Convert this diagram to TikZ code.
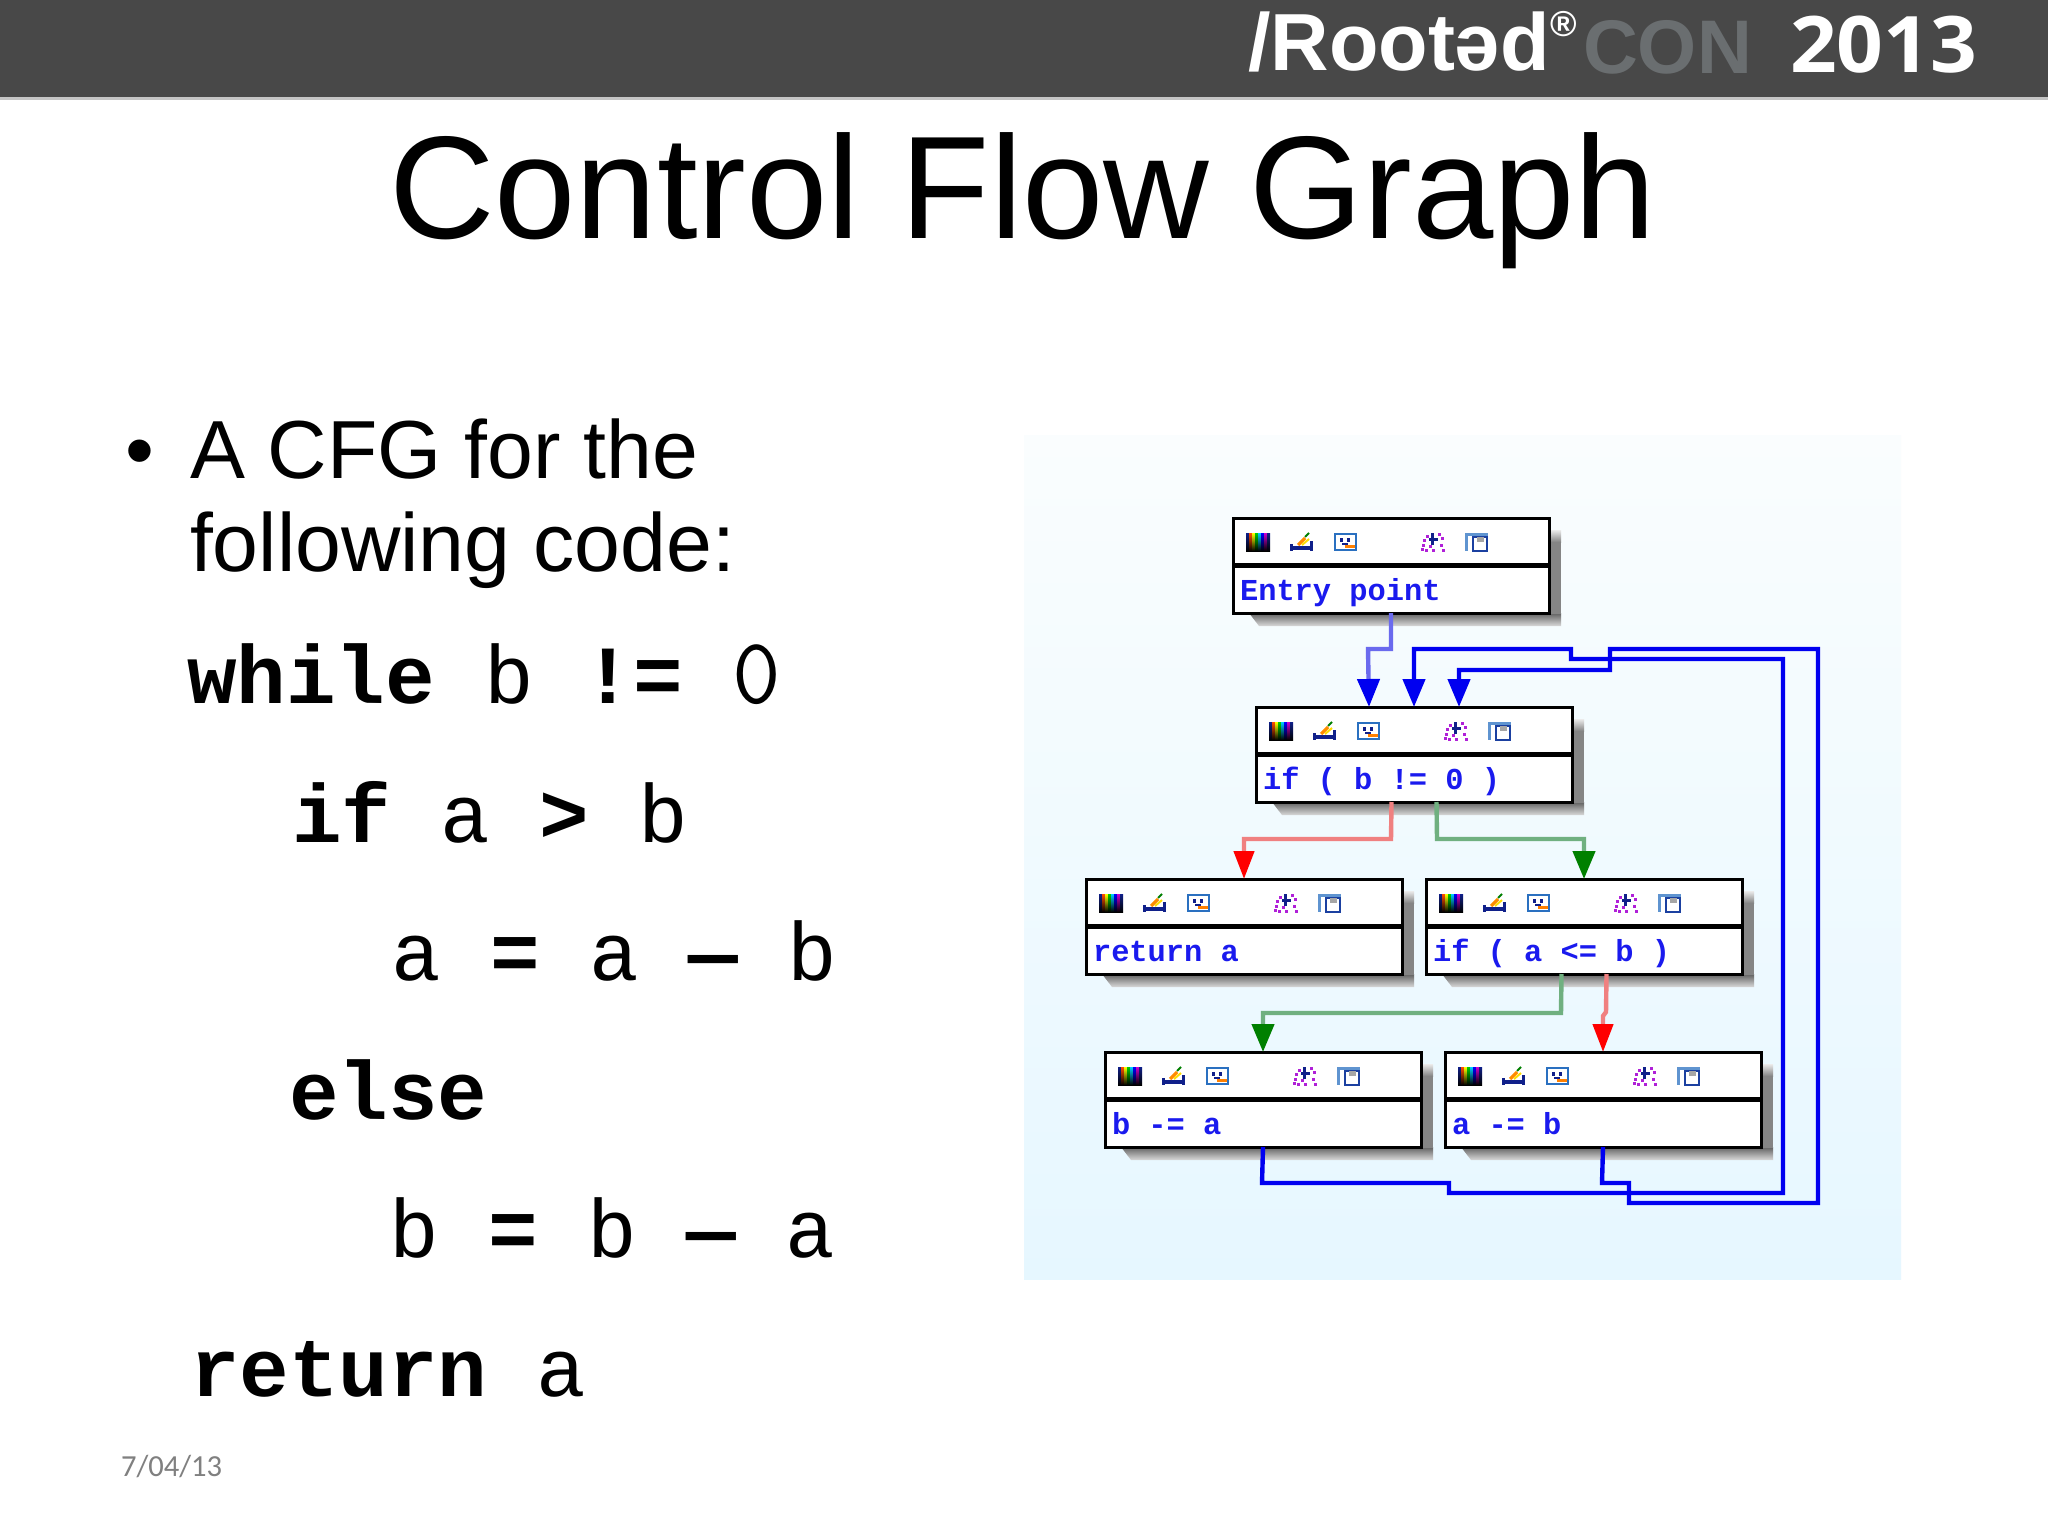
\documentclass[tikz,border=0pt]{standalone}
\usepackage{fontspec}
\usepackage{graphicx}
\setmainfont{Liberation Sans}
\setmonofont{Liberation Mono}
\newfontfamily\datefont{Carlito}
\newfontfamily\yearfont{Open Sans}
\newfontfamily\lmmonofam{Latin Modern Mono}
\usetikzlibrary{arrows.meta,calc}
\definecolor{hdr}{HTML}{484848}
\definecolor{hdrline}{HTML}{C4C4C4}
\definecolor{conc}{HTML}{6A6E70}
\definecolor{bgtop}{HTML}{FAFDFE}
\definecolor{bgbot}{HTML}{E6F7FF}
\definecolor{cfgblue}{HTML}{0000F0}
\definecolor{cfgtext}{HTML}{1A1AEE}
\definecolor{lblue}{HTML}{6A6AEE}
\definecolor{lred}{HTML}{F08080}
\definecolor{lgreen}{HTML}{70B080}
\definecolor{dgreen}{HTML}{008000}
\definecolor{iconblue}{HTML}{2A70C0}
\definecolor{icondark}{HTML}{10208A}
\definecolor{iconpurple}{HTML}{B020D8}
\newcommand{\fsz}[1]{\fontsize{#1pt}{#1pt}\selectfont}
\tikzset{
  x=0.5pt,y=-0.5pt,
  every node/.style={inner sep=0pt,outer sep=0pt},
  txt/.style={anchor=base west},
  blockbox/.style={draw=black,line width=1.5pt,fill=white,minimum width=158pt,minimum height=47.5pt},
  blocktext/.style={anchor=base west,font=\ttfamily\bfseries\fsz{15.2},text=cfgtext},
  title/.style={txt,font=\fsz{73.1},text=black},
  bodytext/.style={txt,font=\fsz{41.2},text=black},
  codeline/.style={txt,font=\ttfamily\fsz{41.3},text=black},
  edge/.style={line width=2.2pt,line join=miter},
  tipblue/.style={-{Triangle[length=14pt,width=11pt,color=cfgblue]}},
  tipred/.style={-{Triangle[length=14pt,width=10pt,color=red]}},
  tipgreen/.style={-{Triangle[length=14pt,width=11pt,color=dgreen]}},
  pics/cfgicons/.style={code={
    \foreach \xa/\ca in {13/icondark,16/red!70!yellow,19/yellow,22/green!80!black,25/cyan!80!blue,28/blue,31/magenta!80!black,34/icondark}{
      \shade[top color=\ca,bottom color=black] (\xa,15) rectangle ++(3,18);}
    \fill[icondark] (57,26) rectangle (60,33);
    \fill[icondark] (57,28) rectangle (80,32);
    \fill[icondark] (77,23) rectangle (80,33);
    \draw[orange!90!yellow,line width=1.6pt] (65,27) -- (72,20);
    \draw[yellow!80!orange,line width=1pt] (69,27) -- (76,21);
    \draw[green!50!black,line width=1pt] (72,19) -- (76,15);
    \draw[iconblue,line width=1.3pt,fill=white] (102,16) rectangle (123,32);
    \fill[icondark] (107,20) rectangle (110,24);
    \fill[icondark] (114,20) rectangle (117,24);
    \fill[icondark] (109,25) rectangle (115,27);
    \fill[orange] (112,27) rectangle (122,30);
    \fill[icondark] (196,20) rectangle (205,23);
    \fill[icondark] (198,15) rectangle (201,27);
    \foreach \pa in {(189,26),(188,30),(192,31),(196,27),(205,15),(208,19),(207,26),(209,31),(190,21),(193,17),(199,31)}{
      \fill[iconpurple] \pa rectangle ++(2.8,2.8);}
    \fill[iconblue!75] (232,15) rectangle (235,33);
    \fill[iconblue!75] (232,15) rectangle (255,18);
    \draw[icondark!60!iconblue,line width=.9pt,fill=white] (240,19) rectangle (254,33);
    \fill[gray!70] (244,19) rectangle (251,24);
  }},
}
\newcommand{\cfgblock}[4]{%
  \shade[top color=black!62,bottom color=black!15!white] ({#2+16},{#3+95}) -- ({#2+316},{#3+95}) -- ({#2+328},{#3+95}) -- ({#2+328},{#3+108}) -- ({#2+26},{#3+108}) -- cycle;
  \fill[black!48] ({#2+316},{#3+24}) rectangle ({#2+328},{#3+96});
  \shade[top color=black!8,bottom color=black!48] ({#2+316},{#3+12}) rectangle ({#2+328},{#3+24});
  \node[blockbox] (#1) at ({#2+158},{#3+47.5}) {};
  \draw[line width=2.5pt] ({#2},{#3+47}) -- ({#2+316},{#3+47});
  \pic at (#2,#3) {cfgicons};
  \node[blocktext] (#1t) at ({#2+7},{#3+82}) {#4};
}
\begin{document}
\begin{tikzpicture}
\useasboundingbox (0,0) rectangle (2048,1535);
\fill[white] (0,0) rectangle (2048,1535);
\fill[hdr] (0,0) rectangle (2048,97);
\fill[hdrline] (0,97) rectangle (2048,100);
\node[txt,font=\bfseries\fsz{40.5},text=white] (logoa) at (1248,71) {/Root\symbol{"0259}d};
\node[txt,font=\bfseries\fsz{18},text=white] (logob) at (1550,37) {\symbol{"00AE}};
\node[txt,font=\bfseries\fsz{38},text=conc] (logoc) at (1583,74) {CON};
\node[txt,font=\yearfont\bfseries\fsz{39},text=white] (logod) at (1790,73) {\scalebox{1.05}[1]{2013}};
\node[title] (ttl) at (389,239) {Control Flow Graph};
\node[bodytext] (bul) at (125,478) {•};
\node[bodytext] (la) at (190,478) {A CFG for the};
\node[bodytext] (lb) at (190,571) {following code:};
\node[codeline] (ca) at (187,703) {\textbf{while} b \textbf{!=} {\lmmonofam\fsz{47.2}0}};
\node[codeline] (cb) at (292,842) {\textbf{if} a \textbf{>} b};
\node[codeline] (cc) at (391,980) {a \textbf{=} a \textbf{—} b};
\node[codeline] (cd) at (289,1119) {\textbf{else}};
\node[codeline] (ce) at (389,1257) {b \textbf{=} b \textbf{—} a};
\node[codeline] (cf) at (190,1396) {\textbf{return} a};
\node[txt,font=\datefont\fsz{15.3},text=black!50] (dt) at (121,1476) {7/04/13};
\shade[top color=bgtop,bottom color=bgbot] (1024,435) rectangle (1901,1279);
\cfgblock{entry}{1233}{518}{Entry point}
\cfgblock{cond}{1256}{707}{if ( b != 0 )}
\cfgblock{ret}{1086}{879}{return a}
\cfgblock{cmp}{1426}{879}{if ( a <= b )}
\cfgblock{subb}{1105}{1052}{b -= a}
\cfgblock{suba}{1445}{1052}{a -= b}
\coordinate (ina) at ($(cond.north)+(-45,0)$);
\coordinate (inb) at (cond.north);
\coordinate (inc) at ($(cond.north)+(45,0)$);
\coordinate (condr) at ($(cond.south)+(-22.5,0)$);
\coordinate (condg) at ($(cond.south)+(22.5,0)$);
\coordinate (cmpg) at ($(cmp.south)+(-22.5,0)$);
\coordinate (cmpr) at ($(cmp.south)+(22.5,0)$);
\draw[edge,lblue,tipblue] (entry.south) -- (1391,649) -- (1368,649) -- (ina);
\draw[edge,cfgblue,tipblue] (subb.south) -- (1262,1183) -- (1449,1183) -- (1449,1193) -- (1783,1193) -- (1783,659) -- (1571,659) -- (1571,649) -- (1414,649) -- (inb);
\draw[edge,cfgblue,tipblue] (suba.south) -- (1602,1183) -- (1629,1183) -- (1629,1203) -- (1818,1203) -- (1818,649) -- (1610,649) -- (1610,670) -- (1459,670) -- (inc);
\draw[edge,lred,tipred] (condr) -- (1391,839) -- (1244,839) -- (ret.north);
\draw[edge,lgreen,tipgreen] (condg) -- (1437,839) -- (1584,839) -- (cmp.north);
\draw[edge,lgreen,tipgreen] (cmpg) -- (1561,1013) -- (1263,1013) -- (subb.north);
\draw[edge,lred,tipred] (cmpr) -- (1606,1012) -- (1603,1016) -- (suba.north);
\end{tikzpicture}
\end{document}
